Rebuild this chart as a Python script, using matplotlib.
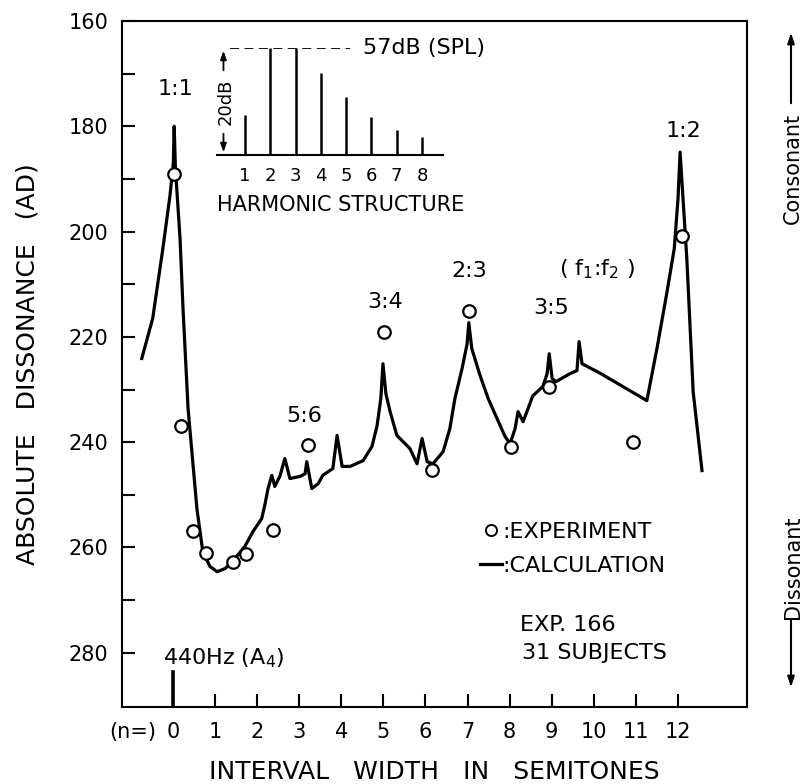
import matplotlib.pyplot as plt
from matplotlib.lines import Line2D

plt.rcParams['font.family'] = 'DejaVu Sans'

# calculated absolute dissonance (solid curve)
calc_x = [-0.74, -0.48, -0.24, -0.07, 0.01, 0.03, 0.06, 0.17, 0.24, 0.36, 0.57,
          0.71, 0.88, 1.05, 1.24, 1.43, 1.71, 1.90, 2.11, 2.19, 2.26, 2.35, 2.42,
          2.54, 2.66, 2.78, 3.02, 3.14, 3.18, 3.30, 3.45, 3.56, 3.80, 3.90, 4.02,
          4.21, 4.52, 4.73, 4.85, 4.94, 4.99, 5.06, 5.16, 5.32, 5.63, 5.80, 5.92,
          6.04, 6.18, 6.42, 6.58, 6.70, 6.87, 6.99, 7.03, 7.10, 7.30, 7.49, 7.70,
          7.89, 8.01, 8.13, 8.20, 8.32, 8.55, 8.79, 8.89, 8.94, 9.01, 9.10, 9.43,
          9.60, 9.65, 9.72, 10.15, 11.26, 11.50, 11.74, 11.91, 12.00, 12.05, 12.12,
          12.21, 12.36, 12.57]
calc_ad = [224.1, 216.5, 203.3, 193.2, 187.0, 180.0, 188.0, 201.4, 214.6, 233.6, 252.6,
           260.8, 263.6, 264.6, 264.0, 262.5, 259.8, 257.0, 254.5, 251.7, 248.8, 246.3, 248.4,
           246.5, 243.1, 246.9, 246.5, 246.0, 243.7, 248.8, 247.9, 246.3, 245.0, 238.7, 244.6,
           244.6, 243.5, 240.8, 236.9, 231.7, 225.1, 230.8, 234.2, 238.7, 241.2, 244.1, 239.3,
           243.7, 244.1, 241.8, 237.4, 231.7, 226.0, 221.3, 217.3, 222.2, 227.4, 231.7, 235.5,
           238.9, 240.3, 237.4, 234.2, 236.1, 231.2, 229.4, 227.0, 223.2, 227.9, 228.5, 227.0,
           226.4, 220.9, 225.1, 226.9, 232.1, 222.2, 211.4, 203.3, 193.8, 184.9, 193.8,
           205.2, 230.4, 245.4]

# experiment (circles)
exp_x = [0.02, 0.19, 0.47, 0.78, 1.43, 1.73, 2.38, 3.21, 5.01, 6.15, 7.03, 8.03, 8.94, 10.93, 12.10]
exp_ad = [189.0, 237.0, 256.8, 261.1, 262.7, 261.3, 256.6, 240.6, 219.0, 245.2, 215.0, 241.0, 229.5, 239.9, 200.8]

# frequency ratio labels
ratio_labels = ["1:1", "5:6", "3:4", "2:3", "3:5", r"( f$_1$:f$_2$ )", "1:2"]
ratio_x = [0.07, 3.11, 5.04, 7.03, 8.98, 10.08, 12.14]
ratio_y = [172.9, 235.1, 213.3, 207.4, 214.5, 207.1, 180.9]

semitones = list(range(13))
tick_labels = ["(n=)"] + [str(s) for s in semitones]

# inset: harmonic structure (dB SPL)
harm_n = [1, 2, 3, 4, 5, 6, 7, 8]
harm_db = [44.5, 57, 57, 52.3, 47.8, 44.1, 41.7, 40.4]

W, H = 803, 784


def px(x, y):
    return x / W, 1 - y / H


fig = plt.figure(figsize=(W / 100, H / 100), dpi=100)
ax = fig.add_axes([0.1519, 0.0982, 0.7784, 0.875])

ax.plot(calc_x, calc_ad, color='k', lw=2.3, zorder=2)
ax.plot(exp_x, exp_ad, 'o', ms=9, mfc='white', mec='k', mew=1.6, zorder=3)

for lab, x, y in zip(ratio_labels, ratio_x, ratio_y):
    ax.text(x, y, lab, ha='center', va='center', fontsize=16)

ax.set_xlim(-1.21, 13.64)
ax.set_ylim(290.3, 160)
ax.set_xticks([-0.95] + semitones)
ax.set_xticklabels(tick_labels)
ax.set_yticks(range(160, 281, 20))
ax.set_yticks(range(170, 290, 20), minor=True)
ax.tick_params(axis='both', which='both', direction='in', length=9.5, width=1.5, labelsize=15)
ax.tick_params(axis='y', pad=10)
ax.tick_params(axis='x', pad=11)
ax.xaxis.get_major_ticks()[0].tick1line.set_visible(False)
for s in ax.spines.values():
    s.set_linewidth(1.5)

# reference tone marker at n = 0
ax.axvline(semitones[0], ymax=0.051, color='k', lw=2.6)
ax.text(-0.24, 281.1, r"440Hz (A$_4$)", ha='left', va='center', fontsize=16)

ax.set_xlabel("INTERVAL   WIDTH   IN   SEMITONES", fontsize=18, labelpad=13)
ax.set_ylabel("ABSOLUTE   DISSONANCE   (AD)", fontsize=18, labelpad=21)

handles = [Line2D([], [], ls='none', marker='o', ms=8, mfc='white', mec='k', mew=1.4),
           Line2D([], [], color='k', lw=2.3)]
ax.legend(handles, [":EXPERIMENT", ":CALCULATION"], loc='upper left',
          bbox_to_anchor=(0.573, 0.27), frameon=False, fontsize=16,
          handlelength=1.0, handletextpad=0.0, borderaxespad=0, borderpad=0,
          labelspacing=0.65)
ax.text(8.25, 274.8, "EXP. 166", ha='left', va='center', fontsize=16)
ax.text(8.29, 280.1, "31 SUBJECTS", ha='left', va='center', fontsize=16)

# consonant / dissonant arrows on the right
arrow = dict(arrowstyle='-|>,head_length=0.6,head_width=0.2', lw=1.5, color='k')
fig.text(*px(793, 168), "Consonant", rotation=90, ha='center', va='center', fontsize=15)
ax.annotate('', xy=px(791, 30), xytext=px(791, 106), xycoords='figure fraction',
            textcoords='figure fraction', arrowprops=arrow)
fig.text(*px(793, 567), "Dissonant", rotation=90, ha='center', va='center', fontsize=15)
ax.annotate('', xy=px(791, 690), xytext=px(791, 617), xycoords='figure fraction',
            textcoords='figure fraction', arrowprops=arrow)

# inset
iax = fig.add_axes([0.2702, 0.8023, 0.2814, 0.1365])
iax.patch.set_alpha(0)
iax.vlines(harm_n, 37, harm_db, color='k', lw=1.8)
iax.set_xlim(-0.107, 8.83)
iax.set_ylim(37, 57)
for k in ['top', 'left', 'right']:
    iax.spines[k].set_visible(False)
iax.spines['bottom'].set_linewidth(1.5)
iax.set_xticks(harm_n)
iax.set_yticks([])
iax.tick_params(axis='x', length=0, labelsize=13, pad=8.5)
iax.hlines(max(harm_db), 0.41, 5.15, color='k', lw=1.3, linestyles=(0, (5, 3)))
iax.text(5.66, 57, "57dB (SPL)", ha='left', va='center', fontsize=16)
arrow2 = dict(arrowstyle='-|>,head_length=0.5,head_width=0.18', lw=1.3, color='k')
iax.annotate('', xy=(0.15, 57), xytext=(0.15, 52.3), arrowprops=arrow2)
iax.annotate('', xy=(0.15, 37), xytext=(0.15, 41.5), arrowprops=arrow2)
iax.text(0.25, 46.9, "20dB", rotation=90, ha='center', va='center', fontsize=13)
iax.text(0.549, -0.467, "HARMONIC STRUCTURE", transform=iax.transAxes,
         ha='center', va='center', fontsize=15)

fig.savefig("out.png", dpi=100)
